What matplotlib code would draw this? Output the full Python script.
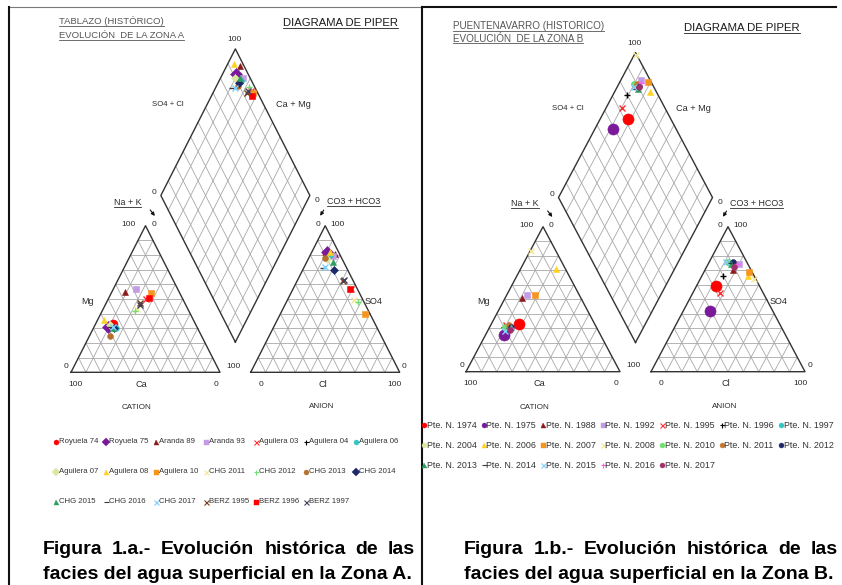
import matplotlib
matplotlib.use('Agg')
import matplotlib.pyplot as plt

plt.rcParams['font.family'] = ['Liberation Sans', 'DejaVu Sans']

# ---------------- Zona A : Tablazo (histórico) ----------------
series_a = ['Royuela 74', 'Royuela 75', 'Aranda 89', 'Aranda 93', 'Aguilera 03',
            'Aguilera 04', 'Aguilera 06', 'Aguilera 07', 'Aguilera 08', 'Aguilera 10',
            'CHG 2011', 'CHG 2012', 'CHG 2013', 'CHG 2014', 'CHG 2015',
            'CHG 2016', 'CHG 2017', 'BERZ 1995', 'BERZ 1996', 'BERZ 1997']
ca_a   = [55, 60, 36, 28, 25, 57, 55, 58, 60, 19, 34, 36, 61, 56, 57, 58, 56, 30, 22, 31]
mg_a   = [33, 31, 55, 57, 50, 31, 30, 32, 36, 54, 43, 42, 25, 30, 30, 31, 31, 47, 51, 46]
nak_a  = [12,  9,  9, 15, 25, 12, 15, 10,  4, 27, 23, 22, 14, 14, 13, 11, 13, 23, 27, 23]
hco3_a = [ 8,  8,  3,  5,  4,  9,  7, 10,  6,  3,  6,  4, 11,  9,  7, 16, 14,  7,  5,  6]
so4_a  = [81, 82, 81, 79, 57, 78, 80, 77, 82, 40, 49, 48, 78, 70, 75, 71, 72, 62, 57, 63]
cl_a   = [11, 10, 16, 16, 39, 13, 13, 13, 12, 57, 45, 48, 11, 21, 18, 13, 14, 31, 38, 31]

# ---------------- Zona B : Puentenavarro (histórico) ----------------
series_b = ['Pte. N. 1974', 'Pte. N. 1975', 'Pte. N. 1988', 'Pte. N. 1992', 'Pte. N. 1995',
            'Pte. N. 1996', 'Pte. N. 1997', 'Pte. N. 2004', 'Pte. N. 2006', 'Pte. N. 2007',
            'Pte. N. 2008', 'Pte. N. 2010', 'Pte. N. 2011', 'Pte. N. 2012', 'Pte. N. 2013',
            'Pte. N. 2014', 'Pte. N. 2015', 'Pte. N. 2016', 'Pte. N. 2017']
ca_b   = [49, 63, 38, 34, 58, 60, 60, 58,  6, 29, 16, 59, 56, 55, 55, 57, 61, 56, 57]
mg_b   = [33, 25, 51, 53, 32, 31, 30, 31, 71, 53, 83, 31, 32, 31, 31, 30, 28, 30, 29]
nak_b  = [18, 12, 11, 13, 10,  9, 10, 11, 23, 18,  1, 10, 12, 14, 14, 13, 11, 14, 14]
hco3_b = [28, 41, 12,  6, 28, 20, 12, 11,  4,  2,  1, 12, 10,  9, 11, 12, 13,  7, 10]
so4_b  = [59, 42, 70, 74, 54, 66, 76, 75, 66, 69, 64, 76, 74, 76, 74, 75, 76, 74, 72]
cl_b   = [13, 17, 18, 20, 18, 14, 12, 14, 30, 29, 35, 12, 16, 15, 15, 13, 11, 19, 18]

# ---------------- styles ----------------
mk_a  = ['o', 'D', '^', 's', 'x', '+', 'o', 'D', '^', 's',
         'x', '+', 'o', 'D', '^', '_', 'x', 'x', 's', 'x']
col_a = ['#ff0000', '#7a1a9a', '#8b1a1a', '#c39be6', '#ff3030', '#000000', '#33c4c4',
         '#d8e8a0', '#ffd21f', '#f7941d', '#f4e79a', '#6ee06e', '#b5702e', '#1c2a6b',
         '#2e9e5e', '#3a3a3a', '#7ccfff', '#7a3b1a', '#ff0000', '#404060']
big_a = [True, True] + [False] * 18

mk_b  = ['o', 'o', '^', 's', 'x', '+', 'o', 'o', '^', 's',
         'x', 'o', 'o', 'o', '^', '_', 'x', '+', 'o']
col_b = ['#ff0000', '#7a1a9a', '#8b1a1a', '#c39be6', '#ff3030', '#000000', '#33c4c4',
         '#d8e8a0', '#ffd21f', '#f7941d', '#f4e79a', '#6ee06e', '#c9782e', '#1c2a6b',
         '#2e9e5e', '#3a3a3a', '#7ccfff', '#ff5cf0', '#a0306a']
big_b = [True, True] + [False] * 17

W, H = 842, 585
fig = plt.figure(figsize=(W / 100, H / 100), dpi=100)
ax = fig.add_axes([0, 0, 1, 1])
ax.set_xlim(0, W)
ax.set_ylim(H, 0)
ax.axis('off')

GRID = '#a8a8a8'
EDGE = '#333333'
LBL = '#2a2a2a'


def make_geom(x0, y0, s, h, gap):
    return dict(x0=x0, y0=y0, s=s, h=h, gap=gap, ax0=x0 + s + gap,
                bx=x0 + s + gap / 2, by=y0 - h * gap / s)


def cat_xy(g, ca, mg, nak):
    t = ca + mg + nak
    return g['x0'] + g['s'] * (nak / t + 0.5 * mg / t), g['y0'] - g['h'] * mg / t


def an_xy(g, hc, so, cl):
    t = hc + so + cl
    return g['ax0'] + g['s'] * (cl / t + 0.5 * so / t), g['y0'] - g['h'] * so / t


def dia_xy(g, ca, mg, nak, hc, so, cl):
    cm = (ca + mg) / (ca + mg + nak)
    sc = (so + cl) / (hc + so + cl)
    return g['bx'] + g['s'] / 2 * (sc - cm), g['by'] - g['h'] * (sc + cm)


def triangle(bx, by, s, h):
    for i in range(1, 10):
        f = i / 10
        ax.plot([bx + s * f / 2, bx + s - s * f / 2], [by - h * f] * 2, color=GRID, lw=0.6)
        ax.plot([bx + s * f, bx + s * f + s * (1 - f) / 2], [by, by - h * (1 - f)], color=GRID, lw=0.6)
        ax.plot([bx + s * f, bx + s * f / 2], [by, by - h * f], color=GRID, lw=0.6)
    ax.plot([bx, bx + s, bx + s / 2, bx], [by, by, by - h, by], color=EDGE, lw=1.0)


def diamond(g):
    bx, by, s, h = g['bx'], g['by'], g['s'], g['h']
    ux, uy, vx, vy = s / 2, -h, -s / 2, -h
    for i in range(1, 10):
        f = i / 10
        ax.plot([bx + f * ux, bx + f * ux + vx], [by + f * uy, by + f * uy + vy], color=GRID, lw=0.6)
        ax.plot([bx + f * vx, bx + f * vx + ux], [by + f * vy, by + f * vy + uy], color=GRID, lw=0.6)
    ax.plot([bx, bx + ux, bx + ux + vx, bx + vx, bx], [by, by + uy, by + uy + vy, by + vy, by],
            color=EDGE, lw=1.0)


underlined = []


def txt(x, y, s, size=6, color=LBL, ha='center', va='center', ul=False, **kw):
    t = ax.text(x, y, s, fontsize=size, color=color, ha=ha, va=va, **kw)
    if ul:
        underlined.append((t, y, color))
    return t


def labels(g):
    x0, y0, s, h = g['x0'], g['y0'], g['s'], g['h']
    ctx, cty = x0 + s / 2, y0 - h
    atx, aty = g['ax0'] + s / 2, y0 - h
    dtx, dty = g['bx'], g['by'] - 2 * h
    dlx, dly = g['bx'] - s / 2, g['by'] - h
    drx, dry = g['bx'] + s / 2, g['by'] - h
    txt(dtx - 1, dty - 9, '100', 6)
    txt(dtx - 68, dty + 56, 'SO4 + Cl', 5.6)
    txt(dtx + 58, dty + 56, 'Ca + Mg', 6.6)
    txt(dlx - 7, dly - 3, '0', 6)
    txt(drx + 7, dry + 5, '0', 6)
    txt(drx + 17, dry + 8.5, 'CO3 + HCO3', 6.4, ha='left', va='baseline', ul=True)
    txt(ctx - 4.5, cty - 20.5, 'Na + K', 6.4, ha='right', va='baseline', ul=True)
    ax.annotate('', xy=(ctx + 11, cty - 7.5), xytext=(ctx + 3, cty - 18),
                arrowprops=dict(arrowstyle='-|>', color='#111111', lw=0.8, mutation_scale=5))
    ax.annotate('', xy=(atx - 6.5, aty - 7.5), xytext=(atx, aty - 18),
                arrowprops=dict(arrowstyle='-|>', color='#111111', lw=0.8, mutation_scale=5))
    txt(ctx - 17, cty - 1, '100', 6)
    txt(ctx + 8, cty - 1, '0', 6)
    txt(atx - 7.5, aty - 1, '0', 6)
    txt(atx + 12, aty - 1, '100', 6)
    txt((x0 + ctx) / 2 - 20.5, (y0 + cty) / 2 + 2, 'Mg', 6.4)
    txt((atx + g['ax0'] + s) / 2 + 11.5, (y0 + aty) / 2 + 2, 'SO4', 6.4)
    txt(x0 - 4.5, y0 - 6, '0', 6)
    txt(x0 + s + 13, y0 - 6, '100', 6)
    txt(g['ax0'] + s + 4.5, y0 - 6, '0', 6)
    txt(x0 + 4.5, y0 + 12, '100', 6)
    txt(ctx - 4, y0 + 12, 'Ca', 6.6)
    txt(x0 + s - 4.5, y0 + 12, '0', 6)
    txt(g['ax0'] + 10, y0 + 12, '0', 6)
    txt(atx - 2.5, y0 + 12, 'Cl', 6.6)
    txt(g['ax0'] + s - 5, y0 + 12, '100', 6)
    txt(ctx - 9, y0 + 35.5, 'CATION', 5.8)
    txt(atx - 3.5, y0 + 34.5, 'ANION', 5.8)


def draw_points(g, ca, mg, nak, hc, so, cl, mks, cols, bigs, bigsize):
    for i in range(len(ca)):
        small_open = mks[i] in ('x', '+', '_')
        ms = bigsize if bigs[i] else 4.2
        kw = dict(ls='none', marker=mks[i], ms=ms, color=cols[i], mew=1.0 if small_open else 0.4,
                  mec=cols[i], mfc=cols[i], zorder=5)
        p1 = cat_xy(g, ca[i], mg[i], nak[i])
        p2 = an_xy(g, hc[i], so[i], cl[i])
        p3 = dia_xy(g, ca[i], mg[i], nak[i], hc[i], so[i], cl[i])
        ax.plot([p1[0], p2[0], p3[0]], [p1[1], p2[1], p3[1]], **kw)


def legend(names, mks, cols, x0, dx, y0, dy, ncol, size, msz):
    for i, n in enumerate(names):
        r, c = divmod(i, ncol)
        x, y = x0 + c * dx, y0 + r * dy
        open_ = mks[i] in ('x', '+', '_')
        ax.plot([x], [y], ls='none', marker=mks[i], ms=msz, color=cols[i], mec=cols[i],
                mfc=cols[i], mew=0.8 if open_ else 0.3)
        ax.text(x + 2.8, y, n, fontsize=size, color='#333333', ha='left', va='center')


# frame lines
ax.plot([9, 421.5], [7, 7], color='#7a7a7a', lw=0.8)
ax.plot([421.5, 836], [7, 7], color='#111111', lw=1.5)
ax.plot([9, 9], [7, 585], color='#111111', lw=1.5)
ax.plot([421.5, 421.5], [7, 585], color='#111111', lw=1.5)

# ---- panel A ----
ga = make_geom(71, 372.3, 149, 146.6, 30.7)
triangle(ga['x0'], ga['y0'], ga['s'], ga['h'])
triangle(ga['ax0'], ga['y0'], ga['s'], ga['h'])
diamond(ga)
labels(ga)
draw_points(ga, ca_a, mg_a, nak_a, hco3_a, so4_a, cl_a, mk_a, col_a, big_a, 6.5)
txt(59, 24.5, 'TABLAZO (HISTÓRICO)', 6.8, color='#555555', ha='left', va='baseline', ul=True)
txt(59, 38, 'EVOLUCIÓN  DE LA ZONA A', 6.8, color='#555555', ha='left', va='baseline', ul=True)
txt(283, 26, 'DIAGRAMA DE PIPER', 8.1, color='#1a1a1a', ha='left', va='baseline', ul=True)
legend(series_a, mk_a, col_a, 56, 50, 441.7, 30, 7, 5.6, 3.6)

# ---- panel B ----
gb = make_geom(466, 371.7, 154, 145, 31)
triangle(gb['x0'], gb['y0'], gb['s'], gb['h'])
triangle(gb['ax0'], gb['y0'], gb['s'], gb['h'])
diamond(gb)
labels(gb)
draw_points(gb, ca_b, mg_b, nak_b, hco3_b, so4_b, cl_b, mk_b, col_b, big_b, 8)
txt(452.7, 29, 'PUENTENAVARRO (HISTORICO)', 7.1, color='#555555', ha='left', va='baseline', ul=True)
txt(452.7, 41.5, 'EVOLUCIÓN  DE LA ZONA B', 7.1, color='#555555', ha='left', va='baseline', ul=True)
txt(684, 31, 'DIAGRAMA DE PIPER', 8.2, color='#1a1a1a', ha='left', va='baseline', ul=True)
legend(series_b, mk_b, col_b, 424, 59.5, 425, 20, 7, 6.4, 3.6)

# captions
cap_kw = dict(fontsize=14, fontweight='bold', color='#000000', va='baseline', ha='left')
line1_a = ax.text(42.7, 554, 'Figura 1.a.- Evolución histórica de las', **cap_kw)
line2_a = ax.text(42.7, 579, 'facies del agua superficial en la Zona A.', **cap_kw)
line1_b = ax.text(463.7, 554, 'Figura 1.b.- Evolución histórica de las', **cap_kw)
line2_b = ax.text(463.7, 579, 'facies del agua superficial en la Zona B.', **cap_kw)

fig.canvas.draw()
rend = fig.canvas.get_renderer()
inv = ax.transData.inverted()


def justify(t, x0, x1):
    words = t.get_text().split()
    y = t.get_position()[1]
    t.set_visible(False)
    ts = [ax.text(0, y, w, **cap_kw) for w in words]
    widths = []
    for w in ts:
        bb = w.get_window_extent(rend)
        a = inv.transform((bb.x0, bb.y0))
        b = inv.transform((bb.x1, bb.y1))
        widths.append(b[0] - a[0])
    gap = (x1 - x0 - sum(widths)) / (len(ts) - 1)
    x = x0
    for w, wd in zip(ts, widths):
        w.set_x(x)
        x += wd + gap


justify(line1_a, 42.7, 415)
justify(line1_b, 463.7, 837.7)

for t, y, c in underlined:
    bb = t.get_window_extent(rend)
    a = inv.transform((bb.x0, bb.y0))
    b = inv.transform((bb.x1, bb.y1))
    ax.plot([a[0], b[0]], [y + 1.6, y + 1.6], color=c, lw=0.6)

fig.savefig('out.png', dpi=100)
